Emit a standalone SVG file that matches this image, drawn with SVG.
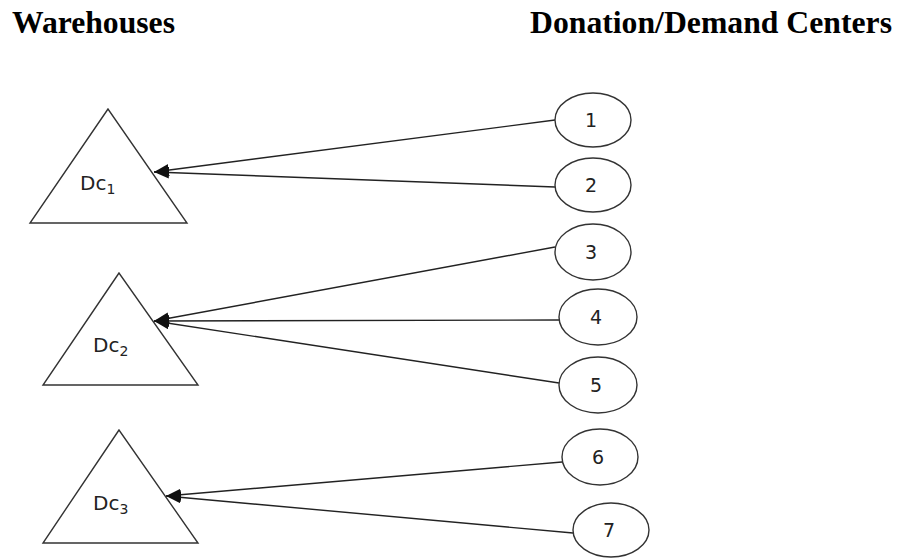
<svg xmlns="http://www.w3.org/2000/svg" width="898" height="558" viewBox="0 0 898 558">
<style>
.title{font-family:"Liberation Serif","Times New Roman",serif;font-weight:bold;font-size:31px;fill:#000}
.tri{fill:none;stroke:#333;stroke-width:1.4}
.ell{fill:none;stroke:#333;stroke-width:1.4}
.lbl{font-family:"DejaVu Sans",Verdana,sans-serif;font-size:20px;fill:#222}
.sub{font-size:14px}
.num{font-family:"DejaVu Sans",Verdana,sans-serif;font-size:19px;fill:#222;text-anchor:middle}
.edge{stroke:#222;stroke-width:1.4;fill:none;marker-end:url(#ah)}
</style>
<defs>
<marker id="ah" markerWidth="16" markerHeight="12" refX="15" refY="6" orient="auto" markerUnits="userSpaceOnUse">
<path d="M0,0 L15,6 L0,12 Z" fill="#111"/>
</marker>
</defs>
<rect width="898" height="558" fill="#fff"/>
<text class="title" x="12" y="33" textLength="163" lengthAdjust="spacingAndGlyphs">Warehouses</text>
<text class="title" x="530" y="33" textLength="362" lengthAdjust="spacingAndGlyphs">Donation/Demand Centers</text>

<g id="connectors">
<line class="edge" x1="555" y1="120" x2="154" y2="172"/>
<line class="edge" x1="555" y1="187" x2="154" y2="172"/>
<line class="edge" x1="555" y1="247" x2="154" y2="321"/>
<line class="edge" x1="559" y1="320" x2="154" y2="321"/>
<line class="edge" x1="559" y1="383" x2="154" y2="321"/>
<line class="edge" x1="562" y1="462" x2="166" y2="496"/>
<line class="edge" x1="573" y1="533" x2="166" y2="496"/>
</g>

<g id="dc1">
<polygon class="tri" points="108,109 30,223 187,223"/>
<text class="lbl" x="80" y="190">Dc<tspan class="sub" dy="4">1</tspan></text>
</g>
<g id="dc2">
<polygon class="tri" points="119,273 43,385 198,385"/>
<text class="lbl" x="93" y="352">Dc<tspan class="sub" dy="4">2</tspan></text>
</g>
<g id="dc3">
<polygon class="tri" points="119,430 43,543 198,543"/>
<text class="lbl" x="93" y="510">Dc<tspan class="sub" dy="4">3</tspan></text>
</g>

<g id="n1"><ellipse class="ell" cx="593" cy="120" rx="38" ry="27"/><text class="num" x="591" y="127">1</text></g>
<g id="n2"><ellipse class="ell" cx="593" cy="185" rx="38" ry="27"/><text class="num" x="591" y="192">2</text></g>
<g id="n3"><ellipse class="ell" cx="593" cy="252" rx="38" ry="28"/><text class="num" x="591" y="259">3</text></g>
<g id="n4"><ellipse class="ell" cx="598" cy="317" rx="39" ry="28"/><text class="num" x="596" y="324">4</text></g>
<g id="n5"><ellipse class="ell" cx="598" cy="385" rx="39" ry="28"/><text class="num" x="596" y="392">5</text></g>
<g id="n6"><ellipse class="ell" cx="600" cy="457" rx="38" ry="28"/><text class="num" x="598" y="464">6</text></g>
<g id="n7"><ellipse class="ell" cx="611" cy="530" rx="38" ry="27"/><text class="num" x="609" y="537">7</text></g>
</svg>
